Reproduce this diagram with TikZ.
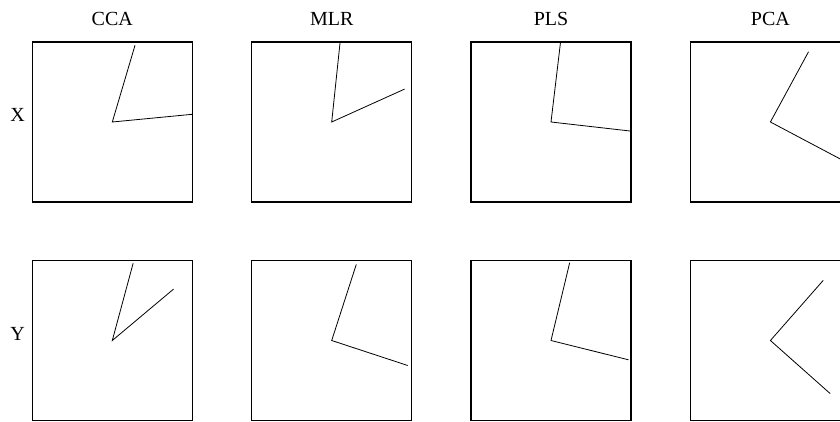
\documentclass[tikz,border=0pt]{standalone}
\usepackage{fontspec}
\setmainfont{Liberation Serif}
\usetikzlibrary{positioning}

\begin{document}
\begin{tikzpicture}[x=1pt, y=1pt,
    panel/.style={draw, line width=1.2pt, minimum size=160pt, inner sep=0pt},
    vec/.style={line width=0.8pt},
    lbl/.style={font=\fontsize{20}{24}\selectfont, inner sep=0pt}]
    \clip (0,0) rectangle (840,421);
    \useasboundingbox (0,0) rectangle (840,421);

    % panels
    \foreach \i/\x in {1/112.3, 2/331.7, 3/551, 4/770.4} {
        \node[panel] (top\i) at (\x,299) {};
        \node[panel] (bot\i) at (\x,80.5) {};
    }

    % method titles and row labels
    \node[lbl, anchor=base] (tcca) at (112.3,395.3) {CCA};
    \node[lbl, anchor=base] (tmlr) at (331.7,395.3) {MLR};
    \node[lbl, anchor=base] (tpls) at (551,395.3) {PLS};
    \node[lbl, anchor=base] (tpca) at (770.4,395.3) {PCA};
    \node[lbl, anchor=base east] (lx) at (25,299) {X};
    \node[lbl, anchor=base east] (ly) at (25,80.5) {Y};

    % directions in X
    \foreach \i/\a/\b in {1/73.5/5.5, 2/84/24.3, 3/83.2/-6.5, 4/61.5/-27.9} {
        \path (top\i.center) ++(\a:80) coordinate (ta\i)
              (top\i.center) ++(\b:80) coordinate (tb\i);
        \draw[vec] (ta\i) -- (top\i.center) -- (tb\i);
    }
    % directions in Y
    \foreach \i/\a/\b in {1/74.9/40, 2/72.1/-18.2, 3/76.5/-14, 4/48.7/-41.6} {
        \path (bot\i.center) ++(\a:80) coordinate (ba\i)
              (bot\i.center) ++(\b:80) coordinate (bb\i);
        \draw[vec] (ba\i) -- (bot\i.center) -- (bb\i);
    }
\end{tikzpicture}
\end{document}
